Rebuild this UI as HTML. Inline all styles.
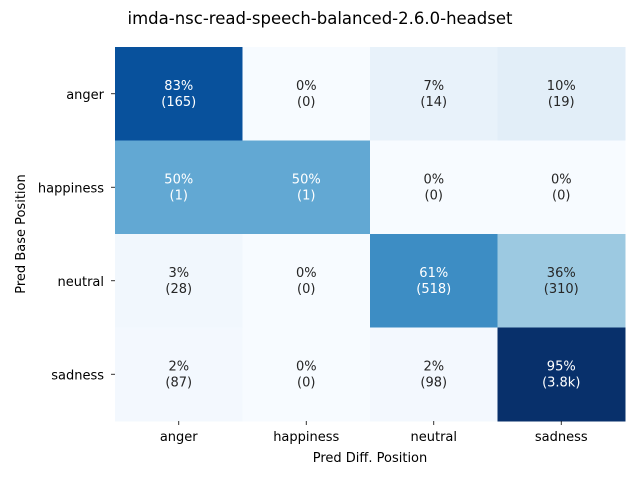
<!DOCTYPE html>
<html><head><meta charset="utf-8"><style>
body{margin:0;background:#fff;font-family:"Liberation Sans","DejaVu Sans",sans-serif;}
</style></head><body>
<svg id="c" width="640" height="480" xmlns="http://www.w3.org/2000/svg" font-family="DejaVu Sans, Liberation Sans, sans-serif">
<text x="320" y="24" text-anchor="middle" font-size="16.5" fill="#000">imda-nsc-read-speech-balanced-2.6.0-headset</text>
<text x="370" y="462" text-anchor="middle" font-size="13">Pred Diff. Position</text>
<text transform="translate(25,234) rotate(-90)" text-anchor="middle" font-size="13">Pred Base Position</text>
<g id="cells"></g>
</svg>
<script>
const categories=["anger","happiness","neutral","sadness"];
const pctValues=[[83,0,7,10],[50,50,0,0],[3,0,61,36],[2,0,2,95]];
const countLabels=[["165","0","14","19"],["1","1","0","0"],["28","0","518","310"],["87","0","98","3.8k"]];
const vmax=95;
const stops=["#f7fbff","#deebf7","#c6dbef","#9ecae1","#6baed6","#4292c6","#2171b5","#08519c","#08306b"];
function hex(h){return [1,3,5].map(i=>parseInt(h.substr(i,2),16));}
function color(v){let t=Math.max(0,Math.min(1,v/vmax))*8;let i=Math.min(7,Math.floor(t));let f=t-i;let a=hex(stops[i]),b=hex(stops[i+1]);return "rgb("+a.map((x,k)=>Math.round(x+(b[k]-x)*f)).join(",")+")";}
const X0=115,X1=625,Y0=47,Y1=421;
const cw=(X1-X0)/categories.length,ch=(Y1-Y0)/categories.length;
const xPos=j=>X0+j*cw, yPos=i=>Y0+i*ch;
const svg=document.getElementById('c'),g=document.getElementById('cells');
const NS="http://www.w3.org/2000/svg";
function mk(t,attrs,p){const e=document.createElementNS(NS,t);for(const k in attrs)e.setAttribute(k,attrs[k]);(p||g).appendChild(e);return e;}
pctValues.forEach((row,i)=>row.forEach((v,j)=>{
 const r=mk('rect',{x:xPos(j),y:yPos(i),width:cw+0.5,height:ch+0.5,fill:color(v)});
 
 
 const tc=v/vmax>0.5?"#fff":"#262626";
 const t=mk('text',{x:xPos(j)+cw/2,y:yPos(i)+ch/2-4,'text-anchor':'middle','font-size':13,fill:tc});
 t.textContent=v+"%";
 
 
 const t2=mk('text',{x:xPos(j)+cw/2,y:yPos(i)+ch/2+12,'text-anchor':'middle','font-size':13,fill:tc});
 t2.textContent="("+countLabels[i][j]+")";
 
 
}));
categories.forEach((c,k)=>{
 const xc=xPos(k)+cw/2;
 mk('line',{x1:xc,x2:xc,y1:Y1,y2:Y1+4,stroke:'#000','stroke-width':0.8});
 const t=mk('text',{x:xc,y:Y1+20,'text-anchor':'middle','font-size':13});
 t.textContent=c;
 
 
 const yc=yPos(k)+ch/2;
 mk('line',{x1:X0-4,x2:X0,y1:yc,y2:yc,stroke:'#000','stroke-width':0.8});
 const t2=mk('text',{x:X0-11,y:yc+5,'text-anchor':'end','font-size':13});
 t2.textContent=c;
 
 
});
</script>
</body></html>
